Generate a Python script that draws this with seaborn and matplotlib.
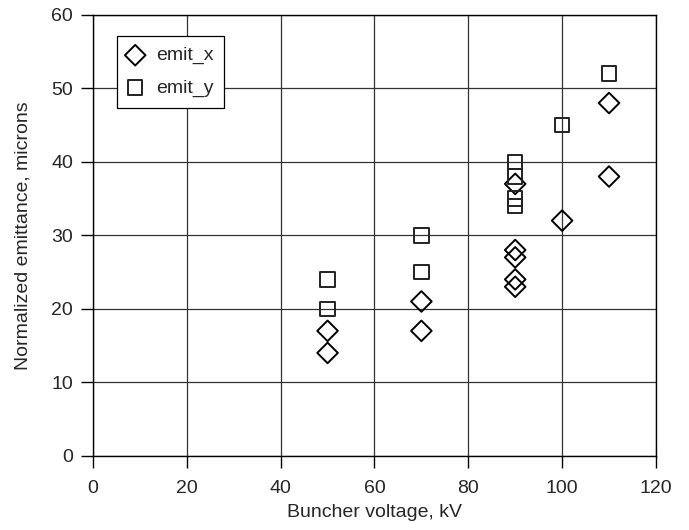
import pandas as pd
import matplotlib.pyplot as plt
import seaborn as sns

# Values
emit_x_kv = [50, 50, 70, 70, 90, 90, 90, 90, 90, 100, 110, 110]
emit_x_val = [14, 17, 17, 21, 23, 24, 27, 28, 37, 32, 38, 48]
emit_y_kv = [50, 50, 70, 70, 90, 90, 90, 90, 100, 110]
emit_y_val = [20, 24, 25, 30, 34, 35, 38, 40, 45, 52]

df_x = pd.DataFrame({'kv': emit_x_kv, 'emit': emit_x_val})
df_y = pd.DataFrame({'kv': emit_y_kv, 'emit': emit_y_val})

sns.set_style('white')
plt.rcParams['font.family'] = ['Liberation Sans', 'DejaVu Sans']

fig, ax = plt.subplots(figsize=(6.89, 5.3), dpi=100)
fig.subplots_adjust(left=0.135, right=0.952, top=0.972, bottom=0.14)

sns.scatterplot(data=df_x, x='kv', y='emit', marker='D', s=110, facecolor='none',
                edgecolor='black', linewidth=1.4, label='emit_x', ax=ax, zorder=3)
sns.scatterplot(data=df_y, x='kv', y='emit', marker='s', s=110, facecolor='none',
                edgecolor='#222222', linewidth=1.4, label='emit_y', ax=ax, zorder=3)

ax.set_xlim(0, 120)
ax.set_ylim(0, 60)
ax.set_xticks(range(0, 121, 20))
ax.set_yticks(range(0, 61, 10))
ax.grid(True, color='#333333', linewidth=0.9)
for sp in ax.spines.values():
    sp.set_color('black')
    sp.set_linewidth(1.0)
ax.tick_params(axis='both', labelsize=14, length=8.5, width=1.0, color='black',
               direction='out', bottom=True, left=True)
ax.tick_params(axis='x', pad=9)
ax.tick_params(axis='y', pad=6)
ax.set_xlabel('Buncher voltage, kV', fontsize=14)
ax.set_ylabel('Normalized emittance, microns', fontsize=14)
ax.xaxis.set_label_coords(0.5, -0.11)
ax.yaxis.set_label_coords(-0.11, 0.5)

leg = ax.legend(loc='upper left', bbox_to_anchor=(0.043, 0.952), borderaxespad=0,
                fontsize=14, frameon=True, fancybox=False, edgecolor='black',
                framealpha=1, handletextpad=0.7, borderpad=0.55, labelspacing=0.75,
                handlelength=0.75)
leg.get_frame().set_linewidth(0.9)

plt.savefig('out.png', dpi=100)
